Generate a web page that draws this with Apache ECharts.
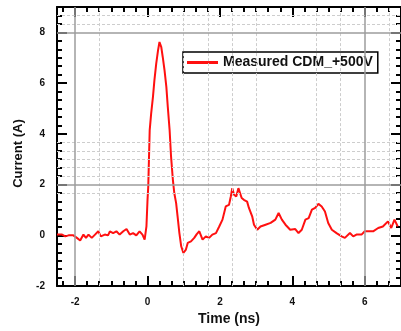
<!DOCTYPE html>
<html>
<head>
<meta charset="utf-8">
<script src="https://cdn.jsdelivr.net/npm/echarts@6/dist/echarts.min.js"></script>
<style>
  html, body { margin: 0; padding: 0; background: #fff; }
  #chart { width: 401px; height: 331px; }
</style>
</head>
<body>
<div id="chart"></div>
<script>
// trace: time (ns) and current (A)
const timeNs = [
  -2.50, -2.46, -2.36, -2.27, -2.18, -2.05, -1.95, -1.86, -1.77, -1.70,
  -1.63, -1.54, -1.45, -1.36, -1.29, -1.18, -1.09, -1.04, -0.95, -0.86,
  -0.77, -0.67, -0.58, -0.49, -0.40, -0.31, -0.22, -0.14, -0.08, -0.03,
  0.00, 0.02, 0.06, 0.10, 0.15, 0.19, 0.24, 0.29, 0.33, 0.38,
  0.42, 0.47, 0.52, 0.56, 0.61, 0.65, 0.70, 0.74, 0.79, 0.83,
  0.88, 0.93, 0.99, 1.06, 1.11, 1.20, 1.29, 1.36, 1.43, 1.52,
  1.61, 1.70, 1.79, 1.89, 1.98, 2.07, 2.16, 2.25, 2.30, 2.34,
  2.39, 2.45, 2.51, 2.55, 2.60, 2.66, 2.75, 2.80, 2.89, 2.94,
  3.03, 3.12, 3.26, 3.40, 3.53, 3.62, 3.71, 3.81, 3.94, 4.08,
  4.17, 4.26, 4.36, 4.45, 4.54, 4.63, 4.72, 4.81, 4.90, 4.99,
  5.09, 5.22, 5.36, 5.45, 5.59, 5.68, 5.77, 5.91, 6.00, 6.23,
  6.37, 6.50, 6.64, 6.73, 6.82, 6.91
];
const currentA = [
  0.03, 0.09, 0.03, -0.04, 0.00, 0.00, -0.10, -0.20, 0.03, -0.10,
  0.03, -0.10, 0.03, 0.16, -0.04, 0.03, 0.00, 0.16, 0.09, 0.16,
  0.03, 0.16, 0.25, 0.03, 0.09, 0.00, 0.16, 0.03, -0.17, 0.35,
  1.40, 1.92, 4.15, 4.80, 5.46, 6.11, 6.77, 7.29, 7.62, 7.42,
  7.03, 6.50, 5.85, 5.06, 4.15, 3.10, 2.19, 1.66, 1.27, 0.75,
  0.09, -0.43, -0.69, -0.56, -0.30, -0.24, -0.10, 0.05, 0.16, -0.17,
  -0.04, -0.10, 0.03, 0.09, 0.35, 0.62, 1.14, 1.20, 1.53, 1.86,
  1.60, 1.53, 1.86, 1.86, 1.47, 1.40, 1.33, 1.08, 0.75, 0.42,
  0.22, 0.35, 0.42, 0.49, 0.62, 0.88, 0.62, 0.42, 0.22, 0.25,
  0.09, 0.22, 0.62, 0.68, 1.01, 1.08, 1.24, 1.14, 0.94, 0.49,
  0.22, 0.09, -0.04, -0.10, 0.09, -0.04, 0.03, 0.03, 0.16, 0.16,
  0.29, 0.35, 0.55, 0.29, 0.62, 0.35
];

// axis ticks and labels
const xMajor = [-2, 0, 2, 4, 6];
const yMajor = [-2, 0, 2, 4, 6, 8];

// grid lines seen in the picture
const xGridSolid = [-2, 6];
const yGridSolid = [2, 8];
const xGridDotted = [-4 / 3, 1, 5 / 3, 7 / 3, 3, 14 / 3, 16 / 3, 20 / 3];
const yGridDotted = [5 / 3, 7 / 3, 8 / 3, 3, 10 / 3, 11 / 3, 25 / 3, 26 / 3];

const X_MIN = -2.5, X_MAX = 7, Y_MIN = -2, Y_MAX = 9;

// minor ticks every 1/3 unit
const thirds = (lo, hi, major) => {
  const out = [];
  for (let k = Math.ceil(lo * 3); k <= Math.floor(hi * 3); k++) {
    const v = k / 3;
    if (!major.some((m) => Math.abs(m - v) < 1e-6)) out.push(v);
  }
  return out;
};
const xMinor = thirds(X_MIN, X_MAX, xMajor);
const yMinor = thirds(Y_MIN, Y_MAX, yMajor);

const FONT = "Liberation Sans";
const INK = "#111";
const RED = "#ff1010";

const tickAxis = (kind, position, values, length, withLine) => ({
  type: "value",
  min: kind === "x" ? X_MIN : Y_MIN,
  max: kind === "x" ? X_MAX : Y_MAX,
  position,
  axisLine: { show: withLine, onZero: false, lineStyle: { color: "#000", width: 2 } },
  axisTick: {
    show: true,
    inside: true,
    length,
    customValues: values,
    lineStyle: { color: "#000", width: 2 },
  },
  axisLabel: { show: false },
  splitLine: { show: false },
});

const solidLine = { color: "#9c9c9c", width: 1.5, type: "solid" };
const dottedLine = { color: "#cdcdcd", width: 1, type: [3, 2] };

const gridLines = [
  ...xGridDotted.map((v) => ({ xAxis: v, lineStyle: dottedLine })),
  ...yGridDotted.map((v) => ({ yAxis: v, lineStyle: dottedLine })),
  ...xGridSolid.map((v) => ({ xAxis: v, lineStyle: solidLine })),
  ...yGridSolid.map((v) => ({ yAxis: v, lineStyle: solidLine })),
];

const chart = echarts.init(document.getElementById("chart"));

chart.setOption({
  animation: false,
  backgroundColor: "#fff",
  grid: { left: 57, top: 7, right: -2, bottom: 43, containLabel: false },
  legend: {
    data: ["Measured CDM_+500V"],
    left: 183,
    top: 52,
    padding: [3, 5, 3, 4],
    borderColor: "#000",
    borderWidth: 1.5,
    icon: "rect",
    itemWidth: 31,
    itemHeight: 3,
    itemStyle: { color: RED },
    textStyle: { fontFamily: FONT, fontSize: 14, fontWeight: "bold", color: INK, lineHeight: 15 },
  },
  xAxis: [
    {
      type: "value",
      min: X_MIN,
      max: X_MAX,
      position: "bottom",
      axisLine: { onZero: false, lineStyle: { color: "#000", width: 2 } },
      axisTick: {
        inside: true,
        length: 10,
        customValues: xMajor,
        lineStyle: { color: "#000", width: 2 },
      },
      axisLabel: {
        customValues: xMajor,
        margin: 11,
        fontFamily: FONT,
        fontSize: 10,
        fontWeight: "bold",
        color: INK,
      },
      splitLine: { show: false },
      name: "Time (ns)",
      nameLocation: "middle",
      nameGap: 25,
      nameTextStyle: { fontFamily: FONT, fontSize: 14, fontWeight: "bold", color: INK },
    },
    tickAxis("x", "bottom", xMinor, 5, false),
    tickAxis("x", "top", xMajor, 10, true),
    tickAxis("x", "top", xMinor, 5, false),
  ],
  yAxis: [
    {
      type: "value",
      min: Y_MIN,
      max: Y_MAX,
      position: "left",
      axisLine: { show: true, onZero: false, lineStyle: { color: "#000", width: 2 } },
      axisTick: {
        show: true,
        inside: true,
        length: 10,
        customValues: yMajor,
        lineStyle: { color: "#000", width: 2 },
      },
      axisLabel: {
        customValues: yMajor,
        margin: 12,
        fontFamily: FONT,
        fontSize: 10,
        fontWeight: "bold",
        color: INK,
      },
      splitLine: { show: false },
      name: "Current (A)",
      nameLocation: "middle",
      nameGap: 25,
      nameTextStyle: { fontFamily: FONT, fontSize: 13, fontWeight: "bold", color: INK, padding: [0, 14, 0, 0] },
    },
    tickAxis("y", "left", yMinor, 5, false),
    tickAxis("y", "right", yMajor, 10, true),
    tickAxis("y", "right", yMinor, 5, false),
  ],
  series: [
    {
      name: "grid",
      type: "line",
      data: [],
      silent: true,
      z: 1,
      markLine: {
        silent: true,
        symbol: ["none", "none"],
        label: { show: false },
        animation: false,
        data: gridLines,
      },
    },
    {
      name: "Measured CDM_+500V",
      type: "line",
      data: timeNs.map((t, i) => [t, currentA[i]]),
      showSymbol: false,
      symbol: "none",
      z: 3,
      lineStyle: { color: RED, width: 2 },
      itemStyle: { color: RED },
    },
  ],
});
</script>
</body>
</html>
